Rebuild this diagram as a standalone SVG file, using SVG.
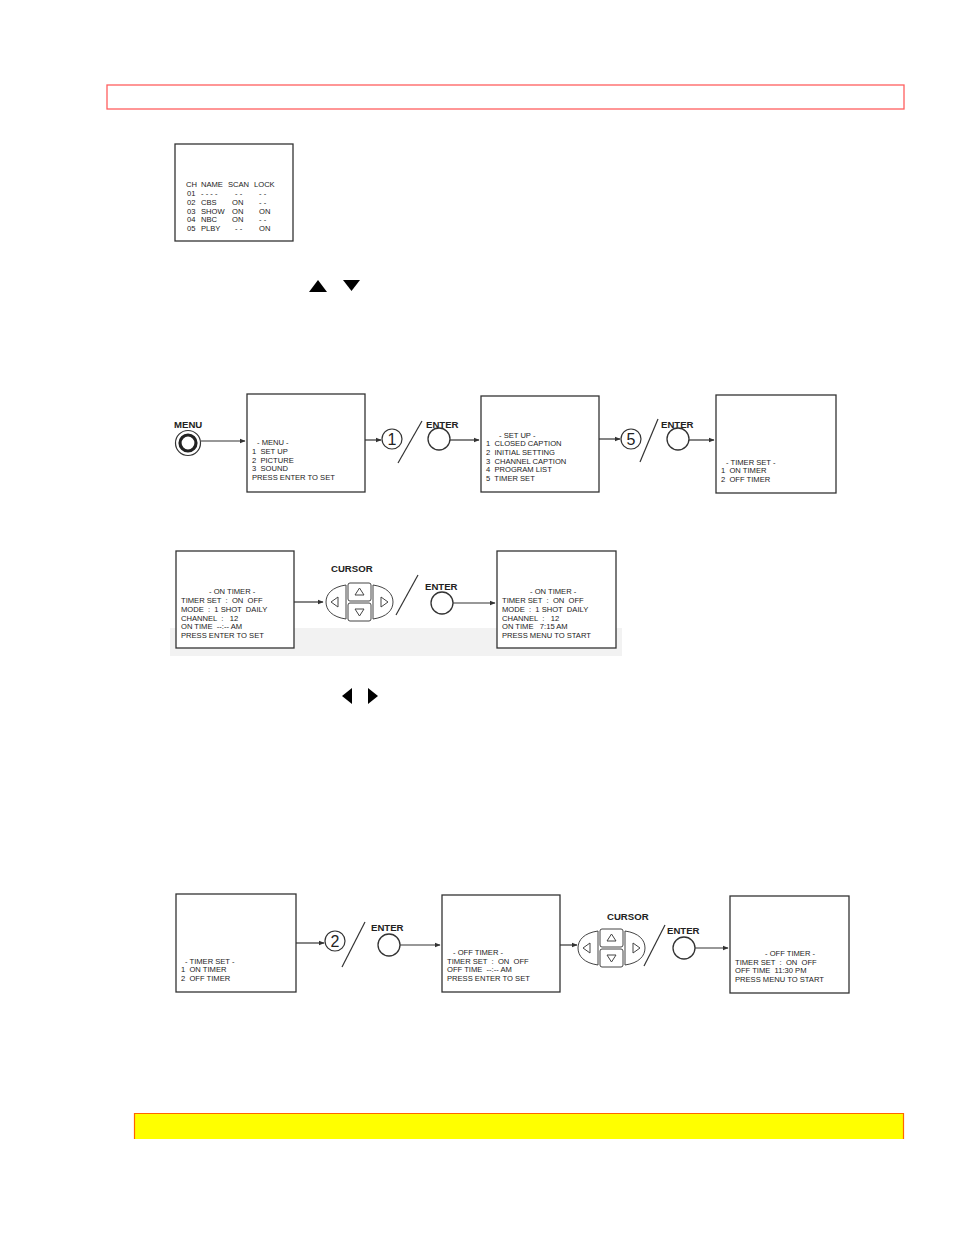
<svg xmlns="http://www.w3.org/2000/svg" width="954" height="1235" viewBox="0 0 954 1235" xml:space="preserve">
<style>
.scr{fill:#fff;stroke:#333;stroke-width:1.3}
.t{font-family:"Liberation Sans",Arial,sans-serif;font-size:7.6px;fill:#1a1a1a;white-space:pre}
.lb{font-family:"Liberation Sans",Arial,sans-serif;font-size:9.6px;font-weight:bold;fill:#222}
.ln{stroke:#333;stroke-width:1.2;fill:none}
.btn{fill:#fff;stroke:#333;stroke-width:1.3}
.num{font-family:"Liberation Sans",Arial,sans-serif;font-size:16px;fill:#222;text-anchor:middle}
.tri{fill:#000}
.pad{fill:#fff;stroke:#444;stroke-width:1}
</style>
<defs>
<marker id="ah" viewBox="0 0 10 10" refX="9" refY="5" markerWidth="6" markerHeight="6" orient="auto" markerUnits="userSpaceOnUse">
<path d="M0,1 L10,5 L0,9 z" fill="#333"/>
</marker>
<g id="cursorpad">
<path class="pad" d="M20,-17 C6,-15 0,-8 0,0 C0,8 6,15 20,17 Z"/>
<path class="pad" d="M5,0 L12,-5 L12,5 Z"/>
<rect class="pad" x="22" y="-19" width="23" height="18" rx="2"/>
<path class="pad" d="M33.5,-14 L38,-7 L29,-7 Z"/>
<rect class="pad" x="22" y="1" width="23" height="18" rx="2"/>
<path class="pad" d="M33.5,14 L38,7 L29,7 Z"/>
<path class="pad" d="M47,-17 C61,-15 67,-8 67,0 C67,8 61,15 47,17 Z"/>
<path class="pad" d="M62,0 L55,-5 L55,5 Z"/>
</g>
</defs>

<rect x="107" y="85" width="797" height="24" fill="none" stroke="#ff5f5f" stroke-width="1.3"/>
<rect x="134" y="1113" width="770" height="26" fill="#ffff00"/>
<path d="M134.5,1139 V1113.5 H903.5 V1139" fill="none" stroke="#ff6600" stroke-width="1.2"/>

<rect x="170" y="628" width="452" height="28" fill="#f2f2f2"/>

<g id="channel-list">
<rect class="scr" x="175" y="144" width="118" height="97"/>
<text class="t" y="187"><tspan x="186">CH</tspan><tspan x="201">NAME</tspan><tspan x="228">SCAN</tspan><tspan x="254">LOCK</tspan></text>
<text class="t" y="196"><tspan x="187">01</tspan><tspan x="201">- - - -</tspan><tspan x="235">- -</tspan><tspan x="259">- -</tspan></text>
<text class="t" y="205"><tspan x="187">02</tspan><tspan x="201">CBS</tspan><tspan x="232">ON</tspan><tspan x="259">- -</tspan></text>
<text class="t" y="214"><tspan x="187">03</tspan><tspan x="201">SHOW</tspan><tspan x="232">ON</tspan><tspan x="259">ON</tspan></text>
<text class="t" y="222"><tspan x="187">04</tspan><tspan x="201">NBC</tspan><tspan x="232">ON</tspan><tspan x="259">- -</tspan></text>
<text class="t" y="231"><tspan x="187">05</tspan><tspan x="201">PLBY</tspan><tspan x="235">- -</tspan><tspan x="259">ON</tspan></text>
</g>

<g id="updown-arrows">
<path class="tri" d="M318,280 L327,292 L309,292 Z"/>
<path class="tri" d="M343,280 L360,280 L351.5,291 Z"/>
</g>

<g id="menu-button">
<text class="lb" x="174" y="428">MENU</text>
<circle cx="188" cy="443" r="12.5" fill="#fff" stroke="#333" stroke-width="1.2"/>
<circle cx="188" cy="443" r="8" fill="none" stroke="#222" stroke-width="3.2"/>
</g>

<g id="menu-screen">
<rect class="scr" x="247" y="394" width="118" height="98"/>
<text class="t" x="257" y="445">- MENU -</text>
<text class="t" x="252" y="454">1  SET UP</text>
<text class="t" x="252" y="463">2  PICTURE</text>
<text class="t" x="252" y="471">3  SOUND</text>
<text class="t" x="252" y="480">PRESS ENTER TO SET</text>
</g>

<g id="step-1">
<circle cx="392" cy="439" r="10" fill="#fff" stroke="#333" stroke-width="1.2"/>
<text class="num" x="392" y="445">1</text>
<line class="ln" x1="398" y1="463" x2="422" y2="421"/>
<text class="lb" x="426" y="428">ENTER</text>
<circle class="btn" cx="439" cy="439" r="11"/>
</g>

<g id="setup-screen">
<rect class="scr" x="481" y="396" width="118" height="96"/>
<text class="t" x="499" y="438">- SET UP -</text>
<text class="t" x="486" y="446">1  CLOSED CAPTION</text>
<text class="t" x="486" y="455">2  INITIAL SETTING</text>
<text class="t" x="486" y="464">3  CHANNEL CAPTION</text>
<text class="t" x="486" y="472">4  PROGRAM LIST</text>
<text class="t" x="486" y="481">5  TIMER SET</text>
</g>

<g id="step-5">
<circle cx="631" cy="439" r="10" fill="#fff" stroke="#333" stroke-width="1.2"/>
<text class="num" x="631" y="445">5</text>
<line class="ln" x1="640" y1="462" x2="658" y2="419"/>
<text class="lb" x="661" y="428">ENTER</text>
<circle class="btn" cx="678" cy="439" r="11"/>
</g>

<g id="timerset-screen-1">
<rect class="scr" x="716" y="395" width="120" height="98"/>
<text class="t" x="726" y="465">- TIMER SET -</text>
<text class="t" x="721" y="473">1  ON TIMER</text>
<text class="t" x="721" y="482">2  OFF TIMER</text>
</g>

<g id="ontimer-screen-1">
<rect class="scr" x="176" y="551" width="118" height="97"/>
<text class="t" x="209" y="594">- ON TIMER -</text>
<text class="t" x="181" y="603">TIMER SET  :  ON  OFF</text>
<text class="t" x="181" y="612">MODE  :  1 SHOT  DAILY</text>
<text class="t" x="181" y="621">CHANNEL  :   12</text>
<text class="t" x="181" y="629">ON TIME  --:-- AM</text>
<text class="t" x="181" y="638">PRESS ENTER TO SET</text>
</g>

<g id="cursor-1">
<text class="lb" x="331" y="572">CURSOR</text>
<use href="#cursorpad" x="326" y="602"/>
<line class="ln" x1="396" y1="615" x2="418" y2="575"/>
<text class="lb" x="425" y="590">ENTER</text>
<circle class="btn" cx="442" cy="603" r="11"/>
</g>

<g id="ontimer-screen-2">
<rect class="scr" x="497" y="551" width="119" height="97"/>
<text class="t" x="530" y="594">- ON TIMER -</text>
<text class="t" x="502" y="603">TIMER SET  :  ON  OFF</text>
<text class="t" x="502" y="612">MODE  :  1 SHOT  DAILY</text>
<text class="t" x="502" y="621">CHANNEL  :   12</text>
<text class="t" x="502" y="629">ON TIME   7:15 AM</text>
<text class="t" x="502" y="638">PRESS MENU TO START</text>
</g>

<g id="leftright-arrows">
<path class="tri" d="M352,688 L352,704 L342,696 Z"/>
<path class="tri" d="M368,688 L378,696 L368,704 Z"/>
</g>

<g id="timerset-screen-2">
<rect class="scr" x="176" y="894" width="120" height="98"/>
<text class="t" x="185" y="964">- TIMER SET -</text>
<text class="t" x="181" y="972">1  ON TIMER</text>
<text class="t" x="181" y="981">2  OFF TIMER</text>
</g>

<g id="step-2">
<circle cx="335" cy="941" r="10" fill="#fff" stroke="#333" stroke-width="1.2"/>
<text class="num" x="335" y="947">2</text>
<line class="ln" x1="342" y1="967" x2="365" y2="922"/>
<text class="lb" x="371" y="931">ENTER</text>
<circle class="btn" cx="389" cy="945" r="11"/>
</g>

<g id="offtimer-screen-1">
<rect class="scr" x="442" y="895" width="118" height="97"/>
<text class="t" x="453" y="955">- OFF TIMER -</text>
<text class="t" x="447" y="964">TIMER SET  :  ON  OFF</text>
<text class="t" x="447" y="972">OFF TIME  --:-- AM</text>
<text class="t" x="447" y="981">PRESS ENTER TO SET</text>
</g>

<g id="cursor-2">
<text class="lb" x="607" y="920">CURSOR</text>
<use href="#cursorpad" x="578" y="948"/>
<line class="ln" x1="644" y1="966" x2="665" y2="925"/>
<text class="lb" x="667" y="934">ENTER</text>
<circle class="btn" cx="684" cy="948" r="11"/>
</g>

<g id="offtimer-screen-2">
<rect class="scr" x="730" y="896" width="119" height="97"/>
<text class="t" x="765" y="956">- OFF TIMER -</text>
<text class="t" x="735" y="965">TIMER SET  :  ON  OFF</text>
<text class="t" x="735" y="973">OFF TIME  11:30 PM</text>
<text class="t" x="735" y="982">PRESS MENU TO START</text>
</g>

<g id="connectors">
<line class="ln" x1="201" y1="441" x2="245" y2="441" marker-end="url(#ah)"/>
<line class="ln" x1="365" y1="440" x2="381" y2="440" marker-end="url(#ah)"/>
<line class="ln" x1="450" y1="440" x2="479" y2="440" marker-end="url(#ah)"/>
<line class="ln" x1="599" y1="439" x2="620" y2="439" marker-end="url(#ah)"/>
<line class="ln" x1="689" y1="440" x2="714" y2="440" marker-end="url(#ah)"/>
<line class="ln" x1="294" y1="602" x2="323" y2="602" marker-end="url(#ah)"/>
<line class="ln" x1="453" y1="603" x2="495" y2="603" marker-end="url(#ah)"/>
<line class="ln" x1="296" y1="943" x2="324" y2="943" marker-end="url(#ah)"/>
<line class="ln" x1="400" y1="945" x2="440" y2="945" marker-end="url(#ah)"/>
<line class="ln" x1="560" y1="945" x2="577" y2="945" marker-end="url(#ah)"/>
<line class="ln" x1="695" y1="948" x2="728" y2="948" marker-end="url(#ah)"/>
</g>
</svg>
